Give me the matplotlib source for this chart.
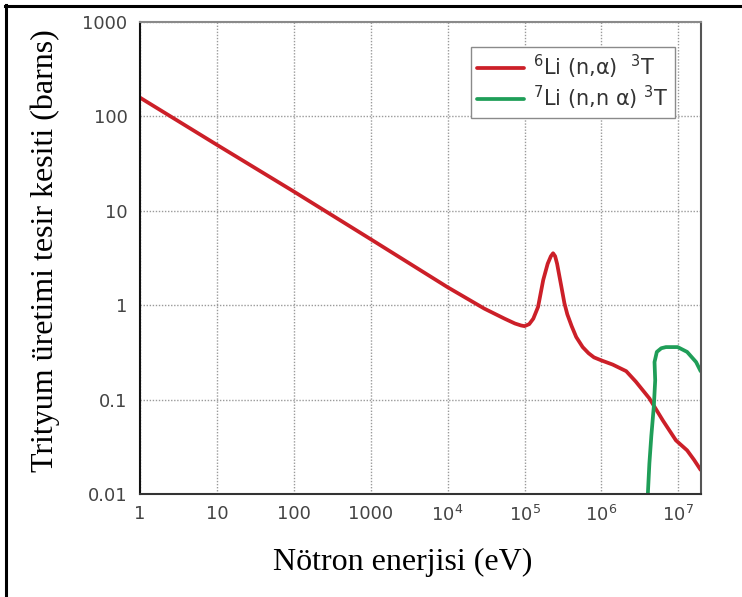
# -*- coding: utf-8 -*-
import numpy as np
import matplotlib
matplotlib.use('Agg')
import matplotlib.pyplot as plt
from matplotlib.lines import Line2D


# 6Li(n,alpha)T cross section, energy in eV and sigma in barns
li6_energy = np.array([1, 10, 100, 1e3, 1e4, 3e4, 5.5e4, 7.5e4, 9e4, 1.0e5, 1.15e5,
                       1.3e5, 1.5e5, 1.75e5, 2.0e5, 2.2e5, 2.35e5, 2.5e5, 2.65e5,
                       3.0e5, 3.3e5, 3.6e5, 4.1e5, 4.7e5, 5.7e5, 6.8e5, 8e5, 1.0e6,
                       1.4e6, 2.1e6, 2.8e6, 4.2e6, 6.3e6, 9.3e6, 1.3e7, 1.6e7, 1.95e7])
li6_sigma = np.array([158, 50, 16, 5.0, 1.55, 0.92, 0.72, 0.64, 0.61, 0.60, 0.63,
                      0.72, 0.96, 1.85, 2.75, 3.3, 3.55, 3.3, 2.75,
                      1.6, 1.05, 0.80, 0.60, 0.46, 0.36, 0.31, 0.28, 0.26,
                      0.235, 0.20, 0.155, 0.103, 0.060, 0.037, 0.029, 0.023, 0.018])

# 7Li(n,n'alpha)T cross section (threshold reaction)
li7_energy = np.array([4.0e6, 4.2e6, 4.45e6, 4.8e6, 5.0e6, 4.9e6, 5.25e6, 6.0e6, 6.9e6,
                       9.8e6, 1.3e7, 1.7e7, 1.95e7])
li7_sigma = np.array([0.0095, 0.021, 0.041, 0.085, 0.16, 0.25, 0.32, 0.35, 0.36,
                      0.36, 0.32, 0.25, 0.20])

x_ticks = [1, 10, 100, 1e3, 1e4, 1e5, 1e6, 1e7]
x_ticklabels = ['1', '10', '100', '1000', r'$10^{4}$', r'$10^{5}$', r'$10^{6}$', r'$10^{7}$']
y_ticks = [0.01, 0.1, 1, 10, 100, 1000]
y_ticklabels = ['0.01', '0.1', '1', '10', '100', '1000']

W, H = 742, 597
fig = plt.figure(figsize=(W / 100, H / 100), dpi=100)
ax = fig.add_axes([140 / W, 1 - 494 / H, 561.5 / W, 472 / H])

ax.plot(li6_energy, li6_sigma, '-', color='#cc1f28', linewidth=2.7,
        label=r'$^{6}$Li (n,α)  $^{3}$T', solid_capstyle='round', solid_joinstyle='round')
ax.plot(li7_energy, li7_sigma, '-', color='#1f9e58', linewidth=2.7,
        label=r'$^{7}$Li (n,n α) $^{3}$T', solid_capstyle='round', solid_joinstyle='round')

ax.set_xscale('log')
ax.set_yscale('log')
ax.set_xlim(1, 2e7)
ax.set_ylim(0.01, 1000)

ax.set_xticks(x_ticks)
ax.set_xticklabels(x_ticklabels)
ax.set_yticks(y_ticks)
ax.set_yticklabels(y_ticklabels)
ax.minorticks_off()
ax.tick_params(axis='both', length=0, labelsize=13, labelcolor='#444444')
ax.tick_params(axis='y', pad=9)
ax.tick_params(axis='x', pad=8)

ax.grid(True, which='major', linestyle=(0, (1, 1.2)), color='#9a9a9a', linewidth=1.0)

ax.spines['left'].set_color('#111111')
ax.spines['bottom'].set_color('#333333')
ax.spines['top'].set_color('#8a8a8a')
ax.spines['right'].set_color('#555555')
for side in ax.spines:
    ax.spines[side].set_linewidth(1.5)

leg = ax.legend(loc='upper right', bbox_to_anchor=((675 - 140) / 561.5, (494 - 47) / 472),
                borderaxespad=0, fancybox=False, framealpha=1, edgecolor='#8a8a8a',
                fontsize=15, handlelength=2.25, handletextpad=0.45, labelspacing=0.1,
                borderpad=0.3)
leg.get_frame().set_linewidth(1.0)
for t in leg.get_texts():
    t.set_color('#333333')

serif = ['Liberation Serif', 'DejaVu Serif']
fig.text(403 / W, 1 - 562 / H, 'Nötron enerjisi (eV)', family=serif, fontsize=23,
         ha='center', va='center')
fig.text(45 / W, 1 - 251 / H, 'Trityum üretimi tesir kesiti (barns)', family=serif,
         fontsize=23, rotation=90, ha='center', va='center')

# black border along the top and left edges
fig.add_artist(Line2D([5 / W, 1], [1 - 5.5 / H, 1 - 5.5 / H], color='black', linewidth=2.2))
fig.add_artist(Line2D([5.5 / W, 5.5 / W], [0, 1 - 5 / H], color='black', linewidth=2.2))

plt.savefig('out.png', dpi=100, facecolor='white')
